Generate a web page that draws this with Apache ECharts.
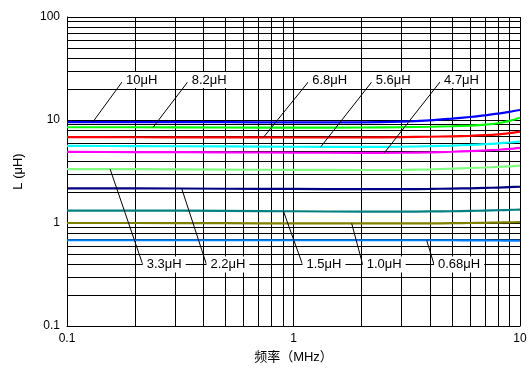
<!DOCTYPE html>
<html><head><meta charset="utf-8">
<script src="https://cdn.jsdelivr.net/npm/echarts@6/dist/echarts.min.js"></script>
<style>html,body{margin:0;padding:0;background:#fff}#c{width:530px;height:369px}</style>
</head><body><div id="c"></div>
<script>
// ---- data ----
const freq = [0.1, 0.2, 0.5, 1, 2, 3, 4, 5, 6, 7, 8, 9, 10];
const L10  = [9.55, 9.55, 9.52, 9.48, 9.5, 9.65, 9.92, 10.3, 10.7, 11.1, 11.55, 12.0, 12.5];
const L82  = [8.5, 8.5, 8.46, 8.44, 8.46, 8.52, 8.6, 8.7, 8.83, 9.0, 9.3, 9.8, 10.5];
const L68  = [6.82, 6.8, 6.78, 6.76, 6.78, 6.82, 6.88, 6.95, 7.02, 7.12, 7.26, 7.46, 7.72];
const L56  = [5.6, 5.58, 5.54, 5.5, 5.48, 5.5, 5.57, 5.65, 5.73, 5.82, 5.93, 6.05, 6.18];
const L47  = [4.9, 4.88, 4.85, 4.82, 4.8, 4.81, 4.86, 4.92, 4.99, 5.06, 5.14, 5.24, 5.36];
const L33  = [3.34, 3.33, 3.3, 3.28, 3.27, 3.28, 3.32, 3.37, 3.42, 3.46, 3.5, 3.55, 3.6];
const L22  = [2.17, 2.17, 2.15, 2.14, 2.13, 2.13, 2.14, 2.16, 2.17, 2.19, 2.21, 2.23, 2.25];
const L15  = [1.32, 1.32, 1.31, 1.3, 1.29, 1.29, 1.295, 1.3, 1.31, 1.32, 1.33, 1.34, 1.35];
const L10b = [1.0, 1.0, 0.995, 0.99, 0.99, 0.99, 0.99, 0.995, 1.0, 1.005, 1.01, 1.015, 1.02];
const L068 = [0.68, 0.68, 0.68, 0.68, 0.68, 0.68, 0.68, 0.68, 0.678, 0.677, 0.676, 0.675, 0.675];
const seriesNames = ['10μH', '8.2μH', '6.8μH', '5.6μH', '4.7μH', '3.3μH', '2.2μH', '1.5μH', '1.0μH', '0.68μH'];
const seriesValues = [L10, L82, L68, L56, L47, L33, L22, L15, L10b, L068];
const xTickLabels = ['0.1', '1', '10'];
const yTickLabels = ['0.1', '1', '10', '100'];
const xMinor = [0.2, 0.3, 0.4, 0.5, 0.6, 0.7, 0.8, 0.9, 2, 3, 4, 5, 6, 7, 8, 9];
const yMinor = [0.2, 0.3, 0.4, 0.5, 0.6, 0.7, 0.8, 0.9, 2, 3, 4, 5, 6, 7, 8, 9, 20, 30, 40, 50, 60, 70, 80, 90];
// callout leaders (data units): start frequency on the curve, end frequency, end value
const leaderStartF = [0.13, 0.24, 0.736, 1.32, 2.52, 0.155, 0.321, 0.903, 1.807, 3.873];
const leaderEndF   = [0.175, 0.341, 1.162, 2.215, 4.436, 0.216, 0.413, 1.096, 2.021, 4.173];
const leaderEndV   = [23.4, 23.4, 23.4, 23.4, 23.4, 0.395, 0.395, 0.395, 0.395, 0.395];

// ---- styles ----
const colors = ['#0000ff', '#00ff00', '#ff0000', '#00ffff', '#ff00ff', '#80ff80', '#000080', '#008080', '#808000', '#0080ff'];
const FONT = '"Liberation Sans", Arial, "Noto Sans CJK SC", sans-serif';

function interpLog(vals, f) {
  const lf = Math.log10(f);
  for (let i = 0; i < freq.length - 1; i++) {
    const a = Math.log10(freq[i]), b = Math.log10(freq[i + 1]);
    if (lf >= a && lf <= b) {
      const t = (lf - a) / (b - a);
      return Math.pow(10, Math.log10(vals[i]) * (1 - t) + Math.log10(vals[i + 1]) * t);
    }
  }
  return vals[vals.length - 1];
}

const series = [{
  type: 'line', data: [], silent: true, z: 1,
  markLine: {
    silent: true, z: 1, symbol: ['none', 'none'], animation: false,
    label: { show: false },
    lineStyle: { color: '#000', width: 1, type: 'solid' },
    emphasis: { disabled: true },
    data: xMinor.map(v => ({ xAxis: v })).concat(yMinor.map(v => ({ yAxis: v })))
  }
}];

seriesValues.forEach((vals, i) => {
  const sv = interpLog(vals, leaderStartF[i]);
  const top = i < 5;
  series.push({
    name: seriesNames[i], type: 'line', z: 2,
    data: freq.map((f, j) => [f, vals[j]]),
    showSymbol: false, symbol: 'none', smooth: 0.3,
    lineStyle: { color: colors[i], width: 2.2 },
    itemStyle: { color: colors[i] },
    emphasis: { disabled: true },
    markLine: {
      silent: true, z: 3, symbol: ['none', 'none'], animation: false,
      label: { show: false },
      lineStyle: { color: '#000', width: 1, type: 'solid' },
      emphasis: { disabled: true },
      data: [[{ coord: [leaderStartF[i], sv] }, { coord: [leaderEndF[i], leaderEndV[i]] }]]
    },
    markPoint: {
      silent: true, z: 4, symbol: 'circle', symbolSize: 0, animation: false,
      label: {
        show: true, position: 'right', distance: 0, offset: [0, top ? -2 : 0],
        formatter: seriesNames[i], color: '#000', fontSize: 13, fontFamily: FONT,
        backgroundColor: '#fff', padding: [2, 4, 1, 4]
      },
      data: [{ coord: [leaderEndF[i], leaderEndV[i]] }]
    }
  });
});

const chart = echarts.init(document.getElementById('c'), null, { renderer: 'canvas' });
chart.setOption({
  animation: false,
  backgroundColor: '#fff',
  grid: { left: 67, right: 10, top: 17, bottom: 41, containLabel: false },
  xAxis: {
    type: 'log', logBase: 10, min: 0.1, max: 10,
    name: '频率（MHz）', nameLocation: 'middle', nameGap: 25,
    nameTextStyle: { color: '#000', fontSize: 13, fontFamily: FONT },
    axisLine: { show: true, lineStyle: { color: '#000', width: 1 } },
    axisTick: { show: false },
    axisLabel: {
      color: '#000', fontSize: 12, fontFamily: FONT, margin: 7,
      formatter: (v) => { const k = Math.round(Math.log10(v)) + 1; return xTickLabels[k] !== undefined ? xTickLabels[k] : ''; }
    },
    splitLine: { show: true, lineStyle: { color: '#000', width: 1 } }
  },
  yAxis: {
    type: 'log', logBase: 10, min: 0.1, max: 100,
    name: 'L (μH)', nameLocation: 'middle', nameGap: 42,
    nameTextStyle: { color: '#000', fontSize: 13, fontFamily: FONT },
    axisLine: { show: true, lineStyle: { color: '#000', width: 1 } },
    axisTick: { show: false },
    axisLabel: {
      color: '#000', fontSize: 12, fontFamily: FONT, margin: 7,
      formatter: (v) => { const k = Math.round(Math.log10(v)) + 1; return yTickLabels[k] !== undefined ? yTickLabels[k] : ''; }
    },
    splitLine: { show: true, lineStyle: { color: '#000', width: 1 } }
  },
  series: series
});
</script></body></html>
